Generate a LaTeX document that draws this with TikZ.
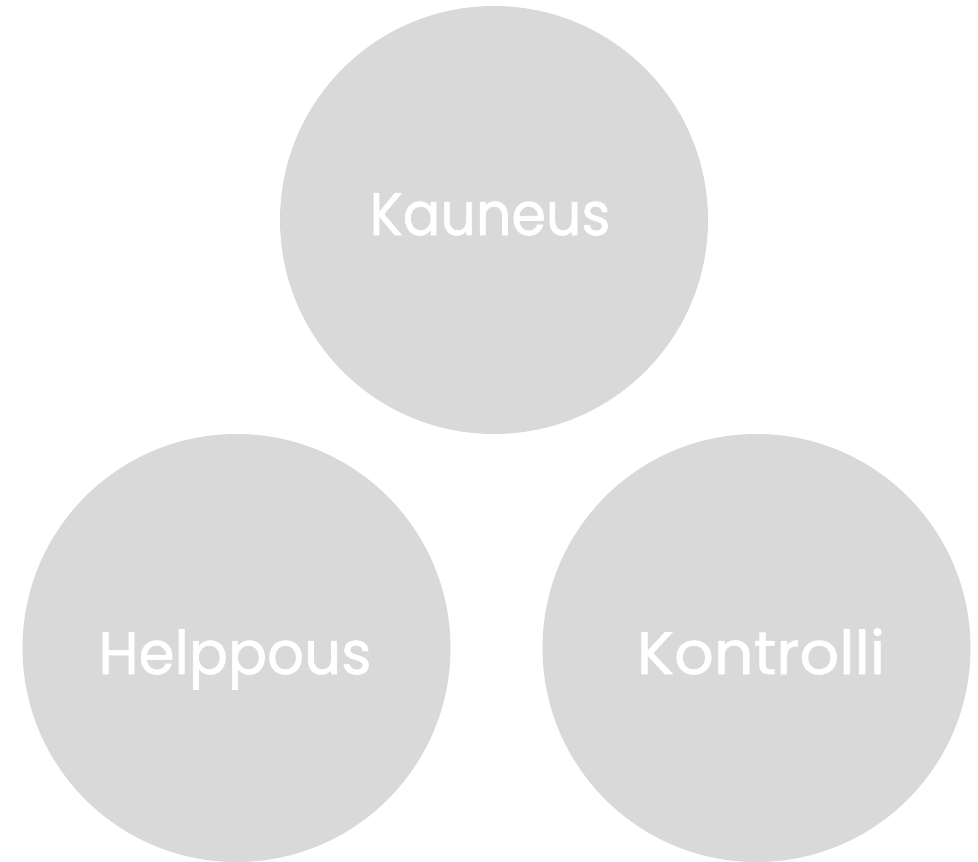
\documentclass[tikz,border=0pt]{standalone}
\usepackage{fontspec}
\setmainfont{Poppins}
\newfontfamily\lblfont{Poppins}[FakeBold=1.2]
\definecolor{circgray}{HTML}{D9D9D9}
\begin{document}
\begin{tikzpicture}[x=1pt,y=-1pt,
  bubble/.style={circle,fill=circgray,minimum size=428pt,inner sep=0pt},
  lbl/.style={text=white,font=\lblfont\fontsize{60}{64}\selectfont,anchor=base,inner sep=0pt}]
\useasboundingbox (0,0) rectangle (978,862);
\node[bubble] (k) at (494,220) {};
\node[bubble] (h) at (236.5,648) {};
\node[bubble] (c) at (756.5,648) {};
\node[lbl] (kt) at (490,235) {\scalebox{0.925}[1]{Kauneus}};
\node[lbl] (ht) at (235,674) {\scalebox{0.965}[1]{Helppous}};
\node[lbl] (ct) at (761,674) {\scalebox{1.036}[1]{Kontrolli}};
\end{tikzpicture}
\end{document}
